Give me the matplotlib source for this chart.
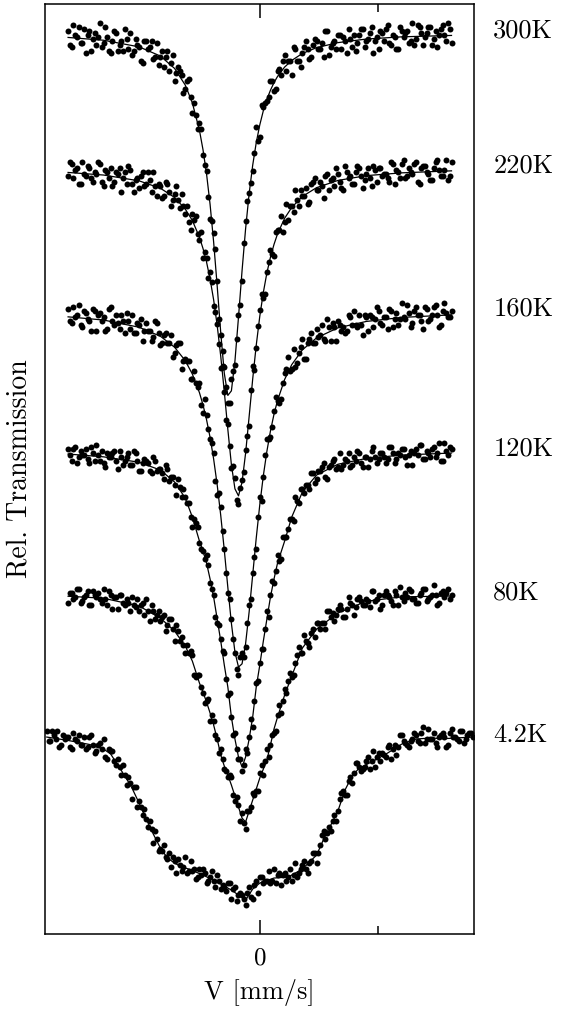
import numpy as np
import matplotlib
matplotlib.use("Agg")
import matplotlib.pyplot as plt
from matplotlib.ticker import FixedLocator
from matplotlib.transforms import blended_transform_factory

plt.rcParams["font.family"] = "serif"
plt.rcParams["font.serif"] = ["cmr10"]
plt.rcParams["axes.formatter.use_mathtext"] = True
plt.rcParams["mathtext.fontset"] = "cm"

TEMPS = ["300K", "220K", "160K", "120K", "80K", "4.2K"]
# vertical shift of each spectrum in the stack, in % transmission
STACK_OFFSET = [1.45, 8.2, 15.35, 22.35, 29.55, 36.65]

# velocity channels (mm/s): forward sweep, and return sweep offset by half a channel
V_CHAN = np.linspace(-1.62, 1.62, 109)
V_CHAN_B = np.linspace(-1.605, 1.605, 108)
V_WIDE = np.linspace(-1.80, 1.80, 121)
V_WIDE_B = np.linspace(-1.785, 1.785, 120)

# measured relative transmission (%), forward sweep
T_300K = [100.1, 99.3, 99.9, 100.3, 99.5, 99.0, 100.1, 99.7, 99.4, 100.5,
          99.5, 99.8, 99.0, 100.1, 99.1, 99.6, 100.2, 99.2, 98.9, 99.7,
          99.3, 98.5, 99.6, 99.3, 98.7, 99.5, 98.8, 98.3, 99.1, 98.5,
          97.6, 98.3, 97.9, 97.2, 97.7, 96.0, 95.9, 95.5, 93.9, 93.1,
          90.7, 90.0, 87.6, 84.9, 83.3, 81.5, 82.7, 83.4, 85.9, 87.6,
          90.6, 92.0, 93.1, 95.3, 94.8, 96.3, 96.6, 97.6, 97.1, 98.1,
          97.9, 98.9, 98.6, 97.9, 99.2, 98.6, 99.0, 99.6, 98.7, 99.4,
          99.6, 99.2, 98.8, 100.1, 99.3, 99.6, 99.9, 99.2, 99.6, 100.2,
          99.3, 99.1, 99.9, 100.2, 99.6, 100.0, 99.0, 99.8, 100.1, 99.6,
          100.4, 99.4, 99.8, 99.2, 100.1, 100.0, 99.5, 100.5, 99.7, 100.3,
          99.4, 100.0, 100.3, 99.7, 99.3, 100.2, 99.9, 100.5, 99.5]
T_220K = [99.6, 100.2, 99.9, 99.2, 100.3, 99.6, 100.0, 99.3, 99.7, 100.2,
          99.1, 99.8, 100.0, 99.3, 99.7, 98.8, 99.8, 100.1, 99.2, 99.4,
          99.0, 99.8, 99.2, 99.4, 99.8, 98.6, 99.1, 98.6, 99.2, 98.1,
          98.7, 98.4, 98.7, 97.7, 97.3, 97.7, 97.6, 96.4, 95.5, 95.5,
          94.8, 93.1, 92.2, 90.0, 88.8, 87.2, 85.0, 84.5, 83.2, 84.4,
          85.9, 87.1, 90.1, 91.0, 92.9, 93.5, 94.8, 95.9, 95.6, 96.9,
          97.6, 97.3, 97.4, 98.1, 98.9, 98.1, 98.6, 99.0, 98.3, 99.3,
          98.9, 99.3, 98.5, 99.7, 99.4, 99.1, 99.7, 99.0, 100.1, 99.5,
          99.2, 99.8, 100.0, 99.0, 99.7, 99.5, 100.1, 99.3, 100.0, 99.7,
          99.5, 100.3, 99.2, 99.8, 100.2, 99.5, 100.0, 99.7, 100.3, 99.2,
          100.1, 99.8, 99.4, 100.0, 100.4, 99.6, 99.9, 99.4, 100.3]
T_160K = [100.1, 99.4, 99.7, 100.3, 99.2, 99.9, 99.5, 100.1, 99.0, 99.9,
          99.7, 99.1, 100.2, 99.3, 99.4, 99.8, 98.9, 99.5, 99.8, 98.9,
          99.3, 98.5, 99.4, 99.0, 98.7, 99.4, 98.3, 98.8, 98.4, 98.8,
          97.9, 98.4, 97.1, 97.6, 97.5, 96.6, 96.4, 96.4, 94.9, 94.8,
          93.6, 92.9, 90.8, 90.2, 88.1, 85.9, 84.6, 82.9, 81.8, 82.9,
          83.2, 85.3, 86.9, 88.1, 90.7, 91.7, 93.6, 93.7, 95.0, 95.5,
          95.6, 96.9, 97.7, 97.1, 97.2, 97.9, 98.6, 97.6, 98.6, 98.4,
          99.1, 98.8, 98.6, 99.6, 98.5, 99.2, 99.5, 99.0, 98.9, 99.8,
          99.3, 99.3, 99.8, 98.8, 99.7, 99.8, 99.2, 100.2, 99.4, 99.7,
          99.1, 100.0, 99.6, 99.3, 100.4, 99.6, 99.9, 99.4, 100.2, 99.8,
          99.1, 100.1, 99.6, 100.2, 99.8, 99.3, 100.4, 99.7, 100.0]
T_120K = [100.1, 99.5, 100.2, 99.7, 99.8, 100.1, 99.4, 99.9, 100.3, 99.5,
          99.4, 99.9, 99.7, 100.0, 99.1, 99.7, 99.5, 99.9, 99.3, 99.9,
          99.0, 99.4, 99.5, 99.0, 99.7, 99.0, 99.1, 98.6, 99.1, 98.7,
          98.3, 98.6, 97.7, 97.7, 97.4, 96.2, 96.4, 95.4, 95.0, 94.8,
          93.4, 92.8, 91.4, 90.6, 89.9, 87.8, 86.7, 85.9, 84.6, 84.0,
          85.1, 85.7, 86.2, 88.4, 89.4, 90.1, 92.0, 92.8, 93.4, 94.8,
          94.6, 95.7, 96.1, 96.6, 97.7, 97.4, 98.1, 98.3, 98.1, 98.9,
          98.6, 99.0, 99.4, 98.6, 99.3, 99.6, 99.2, 99.1, 99.6, 99.9,
          99.3, 99.5, 99.9, 99.2, 99.7, 99.6, 100.2, 99.4, 99.9, 99.7,
          99.6, 100.2, 99.4, 99.9, 100.1, 99.7, 99.8, 99.3, 100.1, 100.3,
          99.6, 100.0, 99.7, 100.2, 99.9, 99.5, 100.4, 99.8, 100.1]
T_80K = [99.6, 100.1, 99.9, 100.3, 99.7, 100.0, 99.5, 100.2, 99.9, 99.8,
         100.3, 99.5, 100.0, 99.9, 99.3, 100.0, 99.5, 99.6, 99.9, 99.4,
         99.2, 99.6, 99.8, 98.7, 99.2, 99.0, 98.7, 99.0, 98.5, 98.8,
         97.7, 98.2, 97.9, 97.1, 97.1, 97.0, 95.9, 96.0, 95.1, 94.7,
         93.7, 93.7, 92.8, 92.3, 91.3, 90.9, 90.9, 89.7, 89.5, 89.1,
         88.3, 89.2, 90.1, 90.2, 91.1, 91.0, 92.3, 92.5, 93.1, 94.0,
         94.1, 95.3, 95.7, 95.9, 96.6, 97.4, 97.1, 97.7, 97.4, 98.3,
         98.6, 98.3, 98.6, 99.2, 98.9, 98.7, 99.3, 99.3, 98.9, 99.9,
         99.5, 99.4, 99.9, 99.5, 99.8, 99.4, 100.2, 99.8, 99.3, 100.0,
         100.0, 99.7, 100.2, 99.5, 99.9, 100.1, 100.3, 99.8, 99.6, 100.0,
         100.3, 99.7, 99.9, 100.5, 99.5, 100.1, 99.9, 100.3, 100.0]
T_4K2 = [100.3, 99.8, 100.1, 100.3, 99.6, 99.9, 100.0, 99.4, 99.9, 100.1,
         99.6, 99.4, 100.0, 99.6, 99.3, 99.7, 99.9, 98.9, 99.3, 98.8,
         98.9, 98.1, 98.1, 98.0, 96.9, 97.5, 96.8, 96.1, 95.9, 95.8,
         94.7, 94.9, 94.4, 94.6, 93.9, 93.5, 93.8, 93.9, 93.3, 94.0,
         93.3, 93.3, 92.9, 93.4, 93.4, 92.7, 93.0, 92.8, 93.1, 92.4,
         92.5, 92.7, 91.9, 92.5, 92.1, 92.1, 91.6, 92.5, 91.9, 92.8,
         93.0, 92.7, 92.8, 92.7, 93.4, 93.1, 92.6, 93.2, 93.0, 92.8,
         93.7, 93.2, 93.6, 93.4, 93.7, 94.2, 93.7, 94.6, 95.3, 95.2,
         95.3, 96.1, 96.3, 97.2, 97.1, 97.8, 97.7, 98.7, 98.5, 98.4,
         98.8, 98.4, 99.3, 99.0, 98.8, 99.1, 99.5, 98.9, 99.6, 99.5,
         100.1, 99.7, 99.5, 99.9, 100.1, 99.7, 100.5, 99.9, 99.9, 100.2,
         99.5, 100.1, 100.0, 99.6, 100.4, 100.0, 99.8, 100.3, 99.9, 100.2,
         100.0]

# measured relative transmission (%), return sweep
T_300K_B = [99.4, 100.4, 99.8, 99.5, 100.2, 99.9, 99.1, 100.0, 99.8, 99.3,
            100.3, 99.1, 99.6, 100.0, 99.4, 99.1, 99.7, 100.0, 99.1, 99.4,
            98.6, 99.6, 99.2, 99.6, 98.8, 98.4, 99.1, 98.8, 98.1, 98.9,
            98.0, 98.1, 97.0, 97.6, 96.8, 96.5, 95.2, 95.2, 93.4, 91.8,
            90.6, 89.2, 85.7, 84.1, 82.3, 81.5, 83.1, 84.7, 86.4, 89.5,
            91.6, 92.5, 94.0, 94.6, 96.4, 96.5, 96.8, 97.6, 97.2, 98.2,
            98.6, 98.1, 98.6, 99.3, 98.6, 98.3, 99.3, 99.2, 98.8, 99.7,
            99.2, 99.5, 100.1, 98.9, 99.5, 99.2, 99.9, 99.8, 99.0, 99.7,
            99.9, 99.5, 100.2, 99.3, 99.7, 100.3, 99.6, 99.2, 100.0, 100.2,
            99.5, 99.9, 99.2, 100.3, 99.8, 100.1, 99.6, 99.4, 100.4, 100.0,
            99.8, 100.3, 99.4, 100.1, 99.9, 100.4, 99.6, 100.2]
T_220K_B = [100.3, 99.5, 100.0, 99.2, 99.7, 100.1, 99.5, 99.8, 100.3, 99.3,
            99.9, 99.5, 99.1, 99.8, 100.0, 99.5, 99.2, 99.9, 98.8, 99.5,
            99.6, 99.1, 99.8, 98.8, 99.1, 99.2, 98.5, 99.3, 98.8, 98.4,
            99.1, 98.0, 98.1, 98.1, 96.9, 97.4, 96.7, 96.8, 95.8, 94.5,
            94.3, 92.8, 91.2, 90.1, 87.4, 86.1, 85.1, 83.4, 84.0, 84.8,
            86.6, 88.9, 89.9, 92.1, 93.7, 93.7, 95.3, 95.7, 96.8, 96.9,
            96.8, 98.2, 98.1, 97.8, 98.4, 98.9, 98.6, 98.2, 99.2, 99.5,
            98.9, 99.1, 99.6, 98.9, 99.5, 100.0, 99.3, 98.9, 99.8, 99.6,
            99.2, 100.1, 99.6, 99.4, 100.0, 99.1, 99.9, 100.0, 99.6, 99.7,
            99.3, 100.2, 99.9, 99.5, 100.4, 99.6, 99.8, 100.2, 99.3, 100.0,
            100.1, 99.7, 99.4, 100.3, 99.9, 99.6, 100.4, 99.6]
T_160K_B = [99.5, 100.2, 99.8, 99.3, 100.0, 99.6, 99.0, 100.0, 99.8, 99.5,
            99.0, 100.1, 99.5, 99.8, 99.1, 99.5, 99.9, 99.1, 98.9, 99.4,
            99.6, 99.0, 99.0, 98.5, 99.5, 98.9, 98.4, 98.9, 98.4, 97.7,
            98.3, 98.4, 97.5, 97.5, 96.6, 97.0, 96.2, 95.3, 95.6, 94.1,
            93.4, 91.5, 90.9, 89.0, 86.9, 85.6, 83.6, 82.1, 82.7, 82.7,
            84.4, 85.6, 87.7, 89.7, 90.5, 92.8, 93.6, 94.2, 95.7, 95.4,
            96.4, 97.1, 97.0, 98.1, 97.4, 98.2, 97.6, 98.4, 98.9, 98.4,
            98.7, 99.3, 98.5, 99.2, 99.4, 98.5, 99.3, 99.2, 99.0, 99.7,
            100.0, 99.2, 99.3, 99.8, 99.0, 99.7, 99.6, 100.0, 99.3, 99.7,
            100.1, 99.2, 99.9, 99.6, 99.7, 100.3, 99.2, 100.0, 99.8, 99.5,
            100.2, 99.5, 99.8, 100.3, 99.2, 100.0, 99.9, 99.7]
T_120K_B = [99.8, 100.1, 99.4, 100.0, 99.8, 99.6, 100.2, 99.5, 99.8, 100.0,
            99.2, 99.7, 99.9, 99.5, 100.0, 99.3, 99.7, 99.3, 100.0, 99.5,
            99.0, 99.6, 99.4, 98.9, 99.5, 99.1, 98.9, 99.3, 98.5, 98.7,
            97.8, 98.2, 98.1, 97.4, 96.7, 96.6, 96.2, 95.1, 94.6, 94.3,
            93.1, 91.7, 91.3, 90.0, 88.6, 87.9, 85.8, 85.1, 84.6, 84.3,
            84.9, 86.6, 87.5, 88.5, 90.1, 91.1, 91.7, 93.5, 94.0, 94.5,
            95.7, 95.7, 96.6, 96.5, 97.5, 98.1, 97.9, 98.3, 98.9, 98.4,
            99.0, 99.2, 98.7, 99.2, 99.5, 99.1, 99.9, 99.3, 99.5, 99.2,
            99.7, 100.0, 99.4, 99.7, 99.2, 100.0, 99.7, 99.6, 99.9, 99.4,
            100.2, 99.9, 99.6, 99.8, 100.1, 99.3, 100.0, 99.9, 99.8, 100.3,
            99.6, 99.9, 100.1, 99.7, 100.4, 99.5, 100.0, 100.2]
T_80K_B = [100.1, 99.8, 100.3, 99.6, 99.9, 100.2, 99.5, 100.0, 100.1, 99.6,
           99.8, 100.2, 99.3, 99.9, 100.0, 99.6, 99.8, 99.2, 99.5, 99.8,
           99.5, 99.0, 99.2, 99.5, 98.8, 99.2, 98.9, 98.2, 98.8, 98.3,
           98.5, 97.7, 97.5, 97.5, 97.2, 96.0, 96.0, 95.4, 94.6, 94.8,
           94.0, 93.0, 92.1, 91.8, 91.2, 91.0, 90.0, 89.9, 88.7, 88.6,
           89.2, 89.4, 90.0, 90.2, 91.5, 91.7, 91.9, 93.0, 93.2, 94.5,
           94.7, 95.1, 96.1, 96.0, 97.0, 97.1, 98.0, 97.6, 98.1, 97.9,
           98.6, 98.6, 98.3, 99.2, 99.1, 99.0, 99.5, 98.9, 99.3, 99.6,
           99.0, 99.8, 99.7, 99.5, 99.7, 100.2, 99.7, 100.0, 99.5, 100.2,
           99.9, 99.5, 100.0, 100.4, 99.7, 99.9, 100.2, 99.8, 99.6, 100.1,
           100.3, 99.8, 100.0, 100.0, 99.6, 100.2, 100.1, 99.8]
T_4K2_B = [99.8, 100.3, 99.9, 99.5, 100.1, 100.0, 99.5, 100.2, 99.8, 99.6,
           100.0, 99.5, 100.1, 99.2, 99.6, 99.4, 99.0, 99.4, 99.3, 98.6,
           98.5, 98.6, 97.6, 97.7, 97.5, 96.5, 96.5, 96.4, 95.5, 95.4,
           95.3, 94.3, 94.3, 94.0, 94.2, 94.0, 93.2, 93.6, 93.5, 93.2,
           93.8, 93.4, 93.0, 93.1, 93.2, 92.8, 93.3, 92.5, 92.8, 92.6,
           92.3, 92.7, 92.4, 91.8, 92.2, 91.9, 92.2, 92.0, 92.6, 92.2,
           93.0, 92.8, 93.3, 92.8, 92.7, 93.2, 93.1, 92.8, 93.4, 93.1,
           93.0, 93.4, 93.8, 93.2, 93.8, 94.2, 94.2, 95.1, 94.9, 95.5,
           95.8, 95.8, 96.9, 97.3, 97.1, 98.0, 98.2, 98.7, 98.3, 98.5,
           99.0, 98.8, 98.5, 99.2, 99.2, 99.0, 99.6, 99.4, 99.1, 100.1,
           99.8, 99.6, 99.8, 100.2, 99.8, 100.2, 99.7, 100.4, 99.9, 99.7,
           100.0, 100.2, 99.5, 100.2, 100.0, 99.9, 100.3, 99.7, 100.1, 100.2]

# fitted curves
FIT_V = [-1.62, -1.32, -1.02, -0.84, -0.72, -0.63, -0.57, -0.51, -0.48, -0.45,
         -0.42, -0.39, -0.36, -0.33, -0.30, -0.27, -0.24, -0.21, -0.18, -0.15,
         -0.12, -0.09, -0.06, -0.03, 0.00, 0.03, 0.06, 0.09, 0.12, 0.15,
         0.21, 0.27, 0.36, 0.48, 0.66, 0.90, 1.20, 1.62]
FIT_300K = [99.78, 99.64, 99.31, 98.85, 98.23, 97.40, 96.51, 95.14, 94.17, 92.96,
            91.43, 89.55, 87.35, 85.02, 82.99, 81.88, 82.11, 83.60, 85.79, 88.11,
            90.21, 91.97, 93.39, 94.52, 95.41, 96.12, 96.69, 97.14, 97.52, 97.83,
            98.30, 98.63, 98.98, 99.27, 99.52, 99.70, 99.81, 99.88]
FIT_220K = [99.78, 99.65, 99.36, 98.99, 98.53, 97.95, 97.38, 96.54, 95.98, 95.30,
            94.45, 93.41, 92.13, 90.59, 88.82, 86.93, 85.17, 83.96, 83.61, 84.29,
            85.74, 87.58, 89.45, 91.14, 92.59, 93.78, 94.76, 95.54, 96.18, 96.71,
            97.49, 98.03, 98.58, 99.02, 99.38, 99.62, 99.76, 99.86]
FIT_160K = [99.71, 99.55, 99.19, 98.74, 98.19, 97.52, 96.85, 95.92, 95.31, 94.57,
            93.68, 92.60, 91.31, 89.78, 88.05, 86.18, 84.39, 82.95, 82.20, 82.36,
            83.37, 84.96, 86.81, 88.65, 90.32, 91.77, 92.99, 94.00, 94.84, 95.53,
            96.58, 97.32, 98.06, 98.66, 99.16, 99.48, 99.68, 99.81]
FIT_120K = [99.85, 99.71, 99.44, 99.05, 98.45, 97.65, 96.70, 95.50, 95.00, 94.40,
            93.60, 92.70, 91.60, 90.50, 89.30, 88.20, 86.70, 85.60, 84.70, 84.20,
            84.70, 85.60, 86.70, 88.20, 89.30, 90.50, 91.60, 92.70, 93.60, 94.40,
            95.50, 96.70, 97.95, 98.80, 99.34, 99.63, 99.80, 99.90]
FIT_80K = [99.94, 99.84, 99.45, 98.85, 98.20, 97.45, 96.70, 95.60, 95.15, 94.65,
           94.10, 93.50, 92.80, 92.00, 91.45, 91.00, 90.50, 89.95, 89.40, 88.85,
           88.65, 89.20, 89.75, 90.30, 90.85, 91.30, 91.75, 92.50, 93.30, 93.90,
           95.00, 95.95, 97.35, 98.30, 99.10, 99.69, 99.91, 99.95]
FIT_4K2_V = [-1.80, -1.62, -1.44, -1.32, -1.26, -1.20, -1.14, -1.08, -1.02, -0.96,
             -0.90, -0.84, -0.78, -0.72, -0.66, -0.60, -0.48, -0.36, -0.24, -0.18,
             -0.12, -0.06, 0.00, 0.12, 0.24, 0.36, 0.48, 0.54, 0.60, 0.66,
             0.72, 0.78, 0.84, 0.96, 1.08, 1.20, 1.32, 1.44, 1.56, 1.80]
FIT_4K2 = [100.0, 99.83, 99.63, 99.40, 99.15, 98.60, 98.05, 97.45, 96.70, 95.90,
           95.15, 94.45, 93.95, 93.70, 93.50, 93.40, 93.10, 92.75, 92.35, 92.10,
           91.85, 92.40, 92.70, 92.95, 93.00, 93.40, 94.10, 94.90, 95.60, 96.30,
           97.35, 98.05, 98.45, 98.80, 99.20, 99.65, 99.90, 99.95, 99.92, 100.0]

sweeps = [
    [(V_CHAN, T_300K), (V_CHAN_B, T_300K_B)],
    [(V_CHAN, T_220K), (V_CHAN_B, T_220K_B)],
    [(V_CHAN, T_160K), (V_CHAN_B, T_160K_B)],
    [(V_CHAN, T_120K), (V_CHAN_B, T_120K_B)],
    [(V_CHAN, T_80K), (V_CHAN_B, T_80K_B)],
    [(V_WIDE, T_4K2), (V_WIDE_B, T_4K2_B)],
]
fits = [(FIT_V, FIT_300K), (FIT_V, FIT_220K), (FIT_V, FIT_160K),
        (FIT_V, FIT_120K), (FIT_V, FIT_80K), (FIT_4K2_V, FIT_4K2)]

fig = plt.figure(figsize=(5.64, 10.10), dpi=100)
ax = fig.add_axes([0.0798, 0.0752, 0.7606, 0.9208])
label_tf = blended_transform_factory(ax.transAxes, ax.transData)

for name, off, runs, (fv, ft) in zip(TEMPS, STACK_OFFSET, sweeps, fits):
    ax.plot(fv, np.asarray(ft) - 100 - off, color="black", lw=0.9, zorder=2)
    for v, t in runs:
        ax.plot(v, np.asarray(t) - 100 - off, "o", color="black", ms=4.3,
                mew=0, zorder=3)
    ax.text(1.045, -off + 0.1, name, transform=label_tf, fontsize=19,
            ha="left", va="center")

ax.set_xlim(-1.815, 1.81)
ax.set_ylim(-46.5, 0)
ax.set_yticks([])
ax.xaxis.set_major_locator(FixedLocator([0]))
ax.xaxis.set_minor_locator(FixedLocator([1]))
ax.tick_params(axis="x", which="both", direction="in", top=True, width=1.1)
ax.tick_params(axis="x", which="major", length=10, labelsize=18, pad=9.5)
ax.tick_params(axis="x", which="minor", length=5.8)
for s in ax.spines.values():
    s.set_linewidth(1.1)

ax.set_xlabel("V [mm/s]", fontsize=19, labelpad=7)
ax.set_ylabel("Rel. Transmission", fontsize=20, labelpad=9)

fig.savefig("out.png", dpi=100)
